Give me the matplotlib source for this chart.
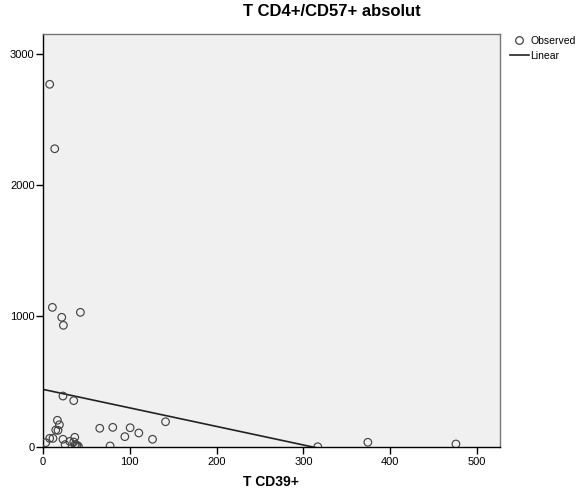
import matplotlib
matplotlib.use("Agg")
import matplotlib.pyplot as plt
from matplotlib.lines import Line2D
import numpy as np

plt.rcParams['font.family'] = ['Liberation Sans', 'DejaVu Sans']

# Observed data (T CD39+ vs T CD4+/CD57+ absolut)
x_obs = [7.7, 13.5, 10.8, 21.6, 23.5, 43.1,
         23, 35.4, 16.6, 18.9, 14.7, 17.3, 7.7, 11.5, 3.1, 23, 36.6,
         25.4, 30.8, 35.4, 36.9, 39.2, 38.5, 40.8,
         65.4, 80.4, 100.4, 94.3, 110.4, 126.2, 141.2, 77.3,
         316.6, 374.3, 475.8]
y_obs = [2769, 2277, 1066, 990, 929, 1028,
         389, 354, 204, 170, 130, 127, 66, 66, 33, 59, 74,
         18, 43, 38, 18, 13, 5, 5,
         143, 150, 147, 79, 107, 59, 193, 8,
         2, 36, 23]

# Linear fit
fit_intercept = 440.0
fit_slope = -1.415

x_ticks = [0, 100, 200, 300, 400, 500]
y_ticks = [0, 1000, 2000, 3000]
title = "T CD4+/CD57+ absolut"
x_label = "T CD39+"

fig = plt.figure(figsize=(5.86, 4.91), dpi=100)
ax = fig.add_axes([43/586, 1-447/491, (499.5-43)/586, (447-34)/491])
ax.set_facecolor('#F0F0F0')

xmin, xmax = 0, 526
ymin, ymax = 0, 3153
ax.set_xlim(xmin, xmax)
ax.set_ylim(ymin, ymax)

ax.scatter(x_obs, y_obs, s=30, facecolors='none', edgecolors='#444444',
           linewidths=0.85, zorder=3, clip_on=True)
xl = np.array([xmin, xmax])
ax.plot(xl, fit_intercept + fit_slope * xl, color='#222222', lw=1.2, zorder=2)

ax.set_xticks(x_ticks)
ax.set_yticks(y_ticks)
ax.tick_params(direction='out', length=5, width=1, labelsize=8, colors='black')
ax.tick_params(axis='x', pad=2)
ax.tick_params(axis='y', pad=1)
for s in ['left', 'bottom']:
    ax.spines[s].set_color('black')
    ax.spines[s].set_linewidth(1.0)
for s in ['top', 'right']:
    ax.spines[s].set_color('#777777')
    ax.spines[s].set_linewidth(1.0)

fig.text(332/586, 1-12/491, title, ha='center', va='center',
         fontsize=12, fontweight='bold')
ax.set_xlabel(x_label, fontsize=10, fontweight='bold', labelpad=6)

handles = [Line2D([], [], marker='o', ls='none', markerfacecolor='none',
                  markeredgecolor='#444444', markersize=5.5, markeredgewidth=0.9),
           Line2D([], [], color='#222222', lw=1.2)]
leg = fig.legend(handles, ['Observed', 'Linear'], loc='upper left',
                 bbox_to_anchor=(510/586, 1-36/491), frameon=False,
                 fontsize=7.5, handlelength=1.8, handletextpad=0.15,
                 labelspacing=0.45, borderpad=0, borderaxespad=0)

fig.savefig('out.png', dpi=100)
